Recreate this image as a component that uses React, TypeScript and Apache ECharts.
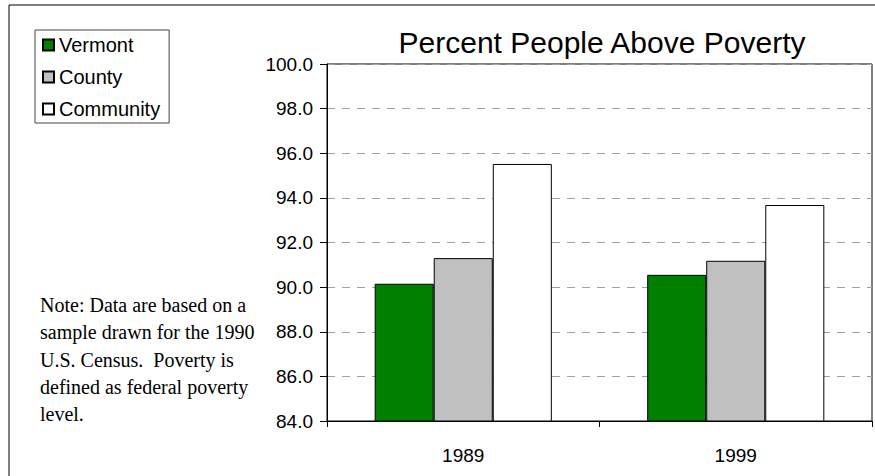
import React, { useEffect, useRef } from "react";
import * as echarts from "echarts";

const categories = ["1989", "1999"];
const vermont = [90.15, 90.55];
const county = [91.3, 91.18];
const community = [95.52, 93.68];
const seriesNames = ["Vermont", "County", "Community"];
const noteLines = [
  "Note: Data are based on a",
  "sample drawn for the 1990",
  "U.S. Census.  Poverty is",
  "defined as federal poverty",
  "level.",
];

export default function App() {
  const ref = useRef<HTMLDivElement>(null);
  useEffect(() => {
    if (!ref.current) return;
    const chart = echarts.init(ref.current, undefined, { renderer: "svg" });
    const font = "'Liberation Sans', Arial, sans-serif";
    const mk = (name: string, data: number[], color: string) => ({
      name,
      type: "bar",
      data,
      barGap: "0%",
      barCategoryGap: "35%",
      itemStyle: { color, borderColor: "#000", borderWidth: 1 },
      emphasis: { disabled: true },
    });
    chart.setOption({
      animation: false,
      backgroundColor: "#fff",
      title: {
        text: "Percent People Above Poverty",
        left: 597,
        top: 22,
        textAlign: "center",
        textStyle: { fontFamily: font, fontSize: 30, fontWeight: "normal", color: "#000" },
      },
      legend: {
        orient: "vertical",
        left: 35,
        top: 30,
        padding: [5, 9, 4, 7],
        itemGap: 12,
        itemWidth: 11,
        itemHeight: 11,
        icon: "rect",
        borderColor: "#444",
        borderWidth: 1,
        data: seriesNames,
        textStyle: { fontFamily: font, fontSize: 20, color: "#000" },
        selectedMode: false,
      },
      grid: {
        left: 327,
        top: 64,
        right: 3,
        bottom: 55,
        show: true,
        borderColor: "#000",
        borderWidth: 1,
      },
      xAxis: {
        type: "category",
        data: categories,
        axisLine: { lineStyle: { color: "#000", width: 1 } },
        axisTick: { show: true, length: 6, lineStyle: { color: "#000" } },
        axisLabel: { fontFamily: font, fontSize: 19, color: "#000", margin: 25 },
      },
      yAxis: {
        type: "value",
        min: 84,
        max: 100,
        interval: 2,
        axisLine: { show: true, lineStyle: { color: "#000", width: 1 } },
        axisTick: { show: true, length: 7, lineStyle: { color: "#000" } },
        axisLabel: {
          fontFamily: font,
          fontSize: 19,
          color: "#000",
          margin: 14,
          formatter: (v: number) => v.toFixed(1),
        },
        splitLine: { show: true, lineStyle: { color: "#a0a0a0", type: [8, 7], width: 1 } },
      },
      graphic: [
        {
          type: "rect",
          shape: { x: 9, y: 5, width: 900, height: 500 },
          style: { fill: "none", stroke: "#000", lineWidth: 1 },
          silent: true,
        },
        ...noteLines.map((t, i) => ({
          type: "text",
          left: 40,
          top: 295 + i * 27.3,
          style: {
            text: t,
            fontFamily: "'Liberation Serif', 'Times New Roman', serif",
            fontSize: 20,
            fill: "#000",
          },
        })),
      ],
      series: [
        mk(seriesNames[0], vermont, "#008000"),
        mk(seriesNames[1], county, "#c0c0c0"),
        mk(seriesNames[2], community, "#ffffff"),
      ],
    });
    return () => chart.dispose();
  }, []);
  return (
    <div
      ref={ref}
      style={{ position: "fixed", left: 0, top: 0, width: 875, height: 476 }}
    />
  );
}
